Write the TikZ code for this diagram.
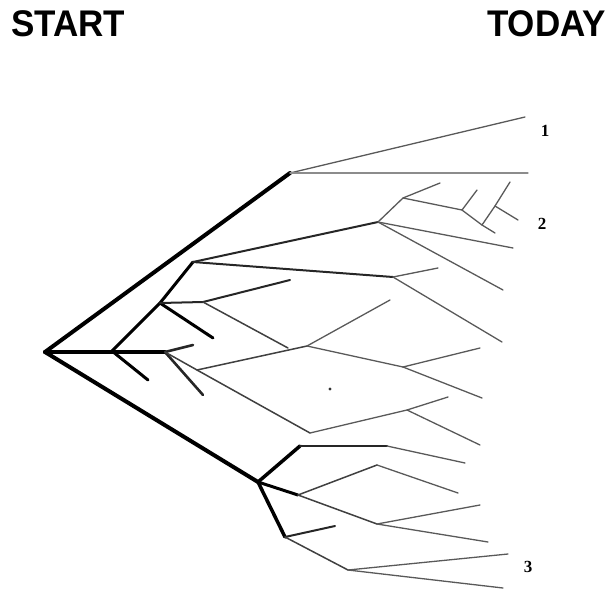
\documentclass[tikz,border=0pt]{standalone}
\usepackage{fontspec}
\setmainfont{Liberation Serif}
\setsansfont{Liberation Sans}
\begin{document}
\begin{tikzpicture}[x=1pt, y=-1pt, line cap=round, line join=round,
		trunk/.style={line width=4pt, black},
		bough/.style={line width=3pt, black},
		limb/.style={line width=2pt, black!85},
		twig/.style={line width=1.5pt, black!75},
		sprig/.style={line width=1.3pt, black!65},
		heading/.style={font=\sffamily\bfseries\fontsize{35}{35}\selectfont, inner sep=0pt},
		tiplabel/.style={font=\bfseries\fontsize{17}{17}\selectfont, inner sep=0pt}]
	\useasboundingbox (0,0) rectangle (606,590);
	% time axis
	\node[heading, anchor=base west] (start) at (11,36) {\scalebox{1}[1.06]{START}};
	\node[heading, anchor=base east] (today) at (606,36) {\scalebox{1}[1.06]{TODAY}};
	% branch points and tips
	\coordinate (root) at (45,352);
	\coordinate (a1) at (290,173);
	\coordinate (t1) at (525,117);
	\coordinate (t1b) at (528,173);
	\coordinate (b1) at (112,351);
	\coordinate (b2) at (165,352);
	\coordinate (b1d) at (148,380);
	\coordinate (c1) at (160,303);
	\coordinate (c2) at (193,262);
	\coordinate (c1a) at (213,338);
	\coordinate (c1b) at (203,302);
	\coordinate (c1bt) at (290,280);
	\coordinate (c1bd) at (288,348);
	\coordinate (k1) at (378,222);
	\coordinate (k1r) at (513,248);
	\coordinate (k1d) at (503,290);
	\coordinate (m1) at (403,198);
	\coordinate (m1t) at (440,183);
	\coordinate (n1) at (462,210);
	\coordinate (n1t) at (477,190);
	\coordinate (o1) at (482,225);
	\coordinate (o1e) at (495,233);
	\coordinate (p1) at (495,206);
	\coordinate (p1t) at (510,182);
	\coordinate (p1e) at (518,220);
	\coordinate (l1) at (393,277);
	\coordinate (l1u) at (438,268);
	\coordinate (l1d) at (502,342);
	\coordinate (b2u) at (193,345);
	\coordinate (b2d) at (203,395);
	\coordinate (g1) at (197,370);
	\coordinate (e1) at (307,346);
	\coordinate (e1u) at (390,300);
	\coordinate (e2) at (403,367);
	\coordinate (e2u) at (480,348);
	\coordinate (e2d) at (482,398);
	\coordinate (h1) at (310,433);
	\coordinate (i1) at (407,410);
	\coordinate (i1u) at (448,397);
	\coordinate (i1d) at (480,445);
	\coordinate (d1) at (258,482);
	\coordinate (d2) at (300,446);
	\coordinate (d3) at (387,446);
	\coordinate (d3e) at (465,463);
	\coordinate (q1) at (298,495);
	\coordinate (q2) at (377,465);
	\coordinate (q2e) at (458,493);
	\coordinate (q3) at (377,524);
	\coordinate (q3u) at (480,505);
	\coordinate (q3d) at (488,542);
	\coordinate (r1) at (285,537);
	\coordinate (r1u) at (335,526);
	\coordinate (r2) at (348,570);
	\coordinate (r2u) at (508,554);
	\coordinate (r2d) at (503,588);
	% main stems
	\draw[trunk] (root) -- (a1);
	\draw[trunk] (root) -- (b2);
	\draw[trunk] (root) -- (d1);
	% top group
	\draw[sprig] (a1) -- (t1);
	\draw[sprig, black!45] (a1) -- (t1b);
	% middle group
	\draw[bough] (b1) -- (c1) -- (c2);
	\draw[bough] (b1) -- (b1d);
	\draw[bough] (c1) -- (c1a);
	\draw[limb] (c1) -- (c1b);
	\draw[limb] (c1b) -- (c1bt);
	\draw[twig] (c1b) -- (c1bd);
	\draw[limb] (c2) -- (k1);
	\draw[limb] (c2) -- (l1);
	\draw[sprig] (k1) -- (k1r);
	\draw[sprig] (k1) -- (k1d);
	\draw[sprig] (k1) -- (m1) -- (m1t);
	\draw[sprig] (m1) -- (n1) -- (n1t);
	\draw[sprig] (n1) -- (o1) -- (o1e);
	\draw[sprig] (o1) -- (p1) -- (p1t);
	\draw[sprig] (p1) -- (p1e);
	\draw[sprig] (l1) -- (l1u);
	\draw[sprig] (l1) -- (l1d);
	\draw[limb, line width=2.6pt] (b2) -- (b2u);
	\draw[limb, line width=2.6pt] (b2) -- (b2d);
	\draw[twig] (b2) -- (g1);
	\draw[twig] (g1) -- (e1);
	\draw[twig] (g1) -- (h1);
	\draw[sprig] (e1) -- (e1u);
	\draw[sprig] (e1) -- (e2);
	\draw[sprig] (e2) -- (e2u);
	\draw[sprig] (e2) -- (e2d);
	\draw[sprig] (h1) -- (i1) -- (i1u);
	\draw[sprig] (i1) -- (i1d);
	\fill[black!80] (330,389) circle (1.6);
	% bottom group
	\draw[bough, line width=3.5pt] (d1) -- (d2);
	\draw[limb] (d2) -- (d3);
	\draw[sprig] (d3) -- (d3e);
	\draw[bough] (d1) -- (q1);
	\draw[twig] (q1) -- (q2);
	\draw[sprig] (q2) -- (q2e);
	\draw[twig] (q1) -- (q3);
	\draw[sprig] (q3) -- (q3u);
	\draw[sprig] (q3) -- (q3d);
	\draw[bough, line width=3.5pt] (d1) -- (r1);
	\draw[limb] (r1) -- (r1u);
	\draw[twig] (r1) -- (r2);
	\draw[sprig] (r2) -- (r2u);
	\draw[sprig] (r2) -- (r2d);
	% tip labels
	\node[tiplabel] (lab1) at (545,131) {1};
	\node[tiplabel] (lab2) at (542,224) {2};
	\node[tiplabel] (lab3) at (528,567) {3};
\end{tikzpicture}
\end{document}
